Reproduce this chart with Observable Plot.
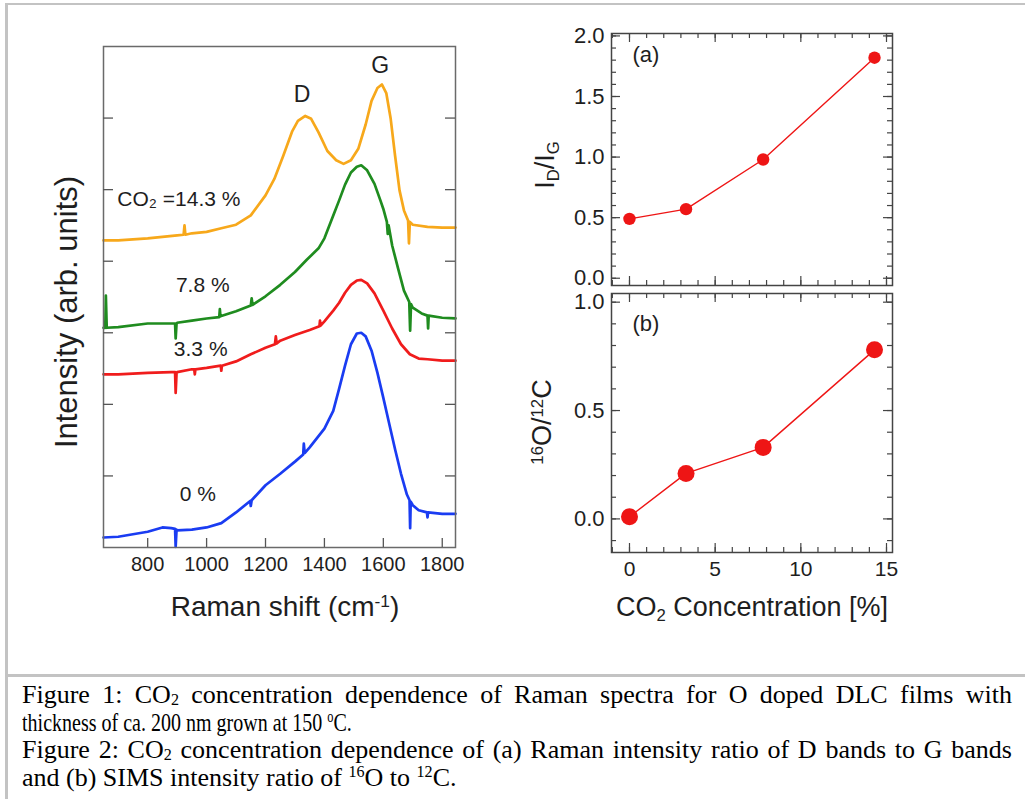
<!DOCTYPE html>
<html>
<head>
<meta charset="utf-8">
<script src="https://cdn.jsdelivr.net/npm/d3@7"></script>
<script src="https://cdn.jsdelivr.net/npm/@observablehq/plot@0.6"></script>
<style>
  html,body{margin:0;padding:0;background:#fff;}
  #page{position:relative;width:1025px;height:799px;overflow:hidden;background:#fff;font-family:"Liberation Sans",Arial,Helvetica,sans-serif;color:#1e1e1e;}
  .bline{position:absolute;background:#c3c3c3;}
  .lab{position:absolute;white-space:nowrap;transform:translate(-50%,-50%);line-height:1;}
  .rot{transform:translate(-50%,-50%) rotate(-90deg);}
  .lab sub{font-size:0.62em;vertical-align:baseline;position:relative;top:0.3em;line-height:0}
  .lab sup{font-size:0.62em;vertical-align:baseline;position:relative;top:-0.5em;line-height:0}
  #caption{position:absolute;left:22px;top:681px;width:990px;font-family:"Liberation Serif","Times New Roman",serif;font-size:26px;line-height:27.5px;color:#000;}
  #caption div{white-space:nowrap;height:27.5px;}
  #caption .j{text-align:justify;text-align-last:justify;white-space:normal;}
  #caption .c{display:inline-block;transform:scaleX(0.77);transform-origin:0 50%;}
  #caption sub{font-size:0.62em;vertical-align:baseline;position:relative;top:0.12em;line-height:0}
  #caption sup{font-size:0.62em;vertical-align:baseline;position:relative;top:-0.5em;line-height:0}
  svg{position:absolute;overflow:visible;}
</style>
</head>
<body>
<div id="page"></div>
<script>
// ---------------- DATA ----------------
// Figure 1: Raman spectra (offset, arb. units)
const seriesNames  = ["0 %", "3.3 %", "7.8 %", "14.3 %"];
const seriesColors = ["#1a3cf2", "#f01c1c", "#1f8c1f", "#f7a81b"];

const shift0 = [650,700,800,850,880,893,895,898,900,950,1000,1050,1100,1148,1150,1153,1200,1250,1300,1328,1330,1333,1350,1400,1430,1450,1470,1490,1510,1525,1540,1560,1580,1600,1620,1640,1660,1680,1689,1691,1693,1700,1720,1748,1750,1752,1800,1845];
const int0   = [0.14,0.15,0.22,0.28,0.27,0.26,0.01,0.25,0.24,0.25,0.28,0.34,0.49,0.65,0.58,0.66,0.87,1.03,1.20,1.30,1.45,1.32,1.40,1.66,1.91,2.22,2.54,2.84,2.99,3.00,2.95,2.75,2.44,2.09,1.73,1.37,1.03,0.74,0.66,0.27,0.64,0.59,0.52,0.49,0.42,0.49,0.47,0.47];

const shift1 = [650,700,800,880,893,895,898,900,950,958,960,962,1000,1048,1050,1052,1100,1150,1200,1232,1235,1238,1250,1300,1350,1383,1385,1387,1400,1430,1450,1470,1490,1510,1525,1545,1570,1600,1630,1660,1690,1720,1750,1800,1845];
const int1   = [2.42,2.42,2.44,2.45,2.45,2.16,2.44,2.45,2.49,2.49,2.42,2.49,2.51,2.54,2.47,2.54,2.60,2.70,2.79,2.84,2.95,2.85,2.89,2.97,3.04,3.09,3.17,3.10,3.16,3.31,3.42,3.56,3.67,3.73,3.74,3.69,3.55,3.31,3.06,2.84,2.70,2.64,2.63,2.61,2.61];

const shift2 = [650,656,658,661,700,800,880,893,895,898,900,950,1000,1043,1045,1047,1100,1150,1153,1156,1200,1250,1300,1340,1380,1400,1430,1450,1470,1490,1510,1525,1545,1570,1590,1600,1612,1615,1618,1630,1650,1670,1688,1691,1694,1700,1730,1750,1752,1754,1800,1845];
const int2   = [3.07,3.07,3.52,3.07,3.08,3.13,3.13,3.13,2.92,3.13,3.14,3.17,3.20,3.22,3.33,3.23,3.30,3.38,3.48,3.39,3.51,3.67,3.85,4.02,4.18,4.32,4.64,4.85,5.07,5.24,5.32,5.34,5.27,5.08,4.85,4.73,4.55,4.38,4.50,4.22,3.90,3.59,3.43,3.03,3.40,3.35,3.27,3.24,3.06,3.24,3.21,3.20];

const shift3 = [650,700,800,900,922,925,928,950,1000,1050,1100,1150,1200,1230,1260,1290,1310,1335,1355,1380,1410,1440,1465,1490,1515,1540,1560,1580,1595,1610,1625,1640,1655,1670,1684,1687,1690,1700,1750,1800,1845];
const int3   = [4.29,4.29,4.32,4.36,4.37,4.50,4.37,4.39,4.41,4.46,4.51,4.64,4.92,5.15,5.47,5.81,5.96,6.03,5.99,5.80,5.54,5.41,5.36,5.41,5.57,5.91,6.24,6.42,6.47,6.35,5.99,5.47,4.99,4.71,4.57,4.25,4.55,4.51,4.48,4.47,4.47];

const ramanTicks     = [800, 1000, 1200, 1400, 1600, 1800];
const intensityTicks = [1, 2, 3, 4, 5, 6];

const specLabels = ["7.8 %", "3.3 %", "0 %"];
const specLabelX = [987, 980, 970];
const specLabelY = [3.66, 2.77, 0.74];
const topLabel   = "CO₂ =14.3 %";
const topLabelX  = 697;
const topLabelY  = 4.87;
const bandLabels = ["D", "G"];
const bandLabelX = [1324, 1589];
const bandLabelY = [6.33, 6.73];

// Figure 2: ratios vs CO2 concentration
const co2Conc  = [0, 3.3, 7.8, 14.3];
const ratioDG  = [0.49, 0.57, 0.98, 1.82];
const ratioOC  = [0.01, 0.21, 0.33, 0.78];

const concMajor  = [0, 5, 10, 15];
const concMinor  = [-1,0,1,2,3,4,5,6,7,8,9,10,11,12,13,14,15];
const dgMajor    = [0, 0.5, 1.0, 1.5, 2.0];
const dgMinor    = [0,0.1,0.2,0.3,0.4,0.5,0.6,0.7,0.8,0.9,1.0,1.1,1.2,1.3,1.4,1.5,1.6,1.7,1.8,1.9,2.0];
const ocMajor    = [0, 0.5, 1.0];
const ocMinor    = [-0.1,0,0.1,0.2,0.3,0.4,0.5,0.6,0.7,0.8,0.9,1.0];

// ---------------- BUILD ----------------
const FONT = "Liberation Sans, Arial, Helvetica, sans-serif";
const page = document.getElementById("page");

const spectra = [];
[[shift0,int0],[shift1,int1],[shift2,int2],[shift3,int3]].forEach(([xs,ys],i) => {
  xs.forEach((x,j) => spectra.push({shift:x, intensity:ys[j], series:seriesNames[i]}));
});
const specLab = specLabels.map((t,i)=>({t, x:specLabelX[i], y:specLabelY[i]}));
const bandLab = bandLabels.map((t,i)=>({t, x:bandLabelX[i], y:bandLabelY[i]}));

// Left panel
const L = {w:480, h:640, ml:103, mr:25, mt:46, mb:93};
const Lfw = L.w - L.ml - L.mr, Lfh = L.h - L.mt - L.mb;
const tickCol = "#555";
const left = Plot.plot({
  width: L.w, height: L.h,
  marginLeft: L.ml, marginRight: L.mr, marginTop: L.mt, marginBottom: L.mb,
  style: {fontFamily: FONT, background: "transparent", color: "#1e1e1e"},
  x: {domain: [650, 1845], axis: null},
  y: {domain: [0, 7], axis: null},
  color: {domain: seriesNames, range: seriesColors},
  marks: [
    Plot.line(spectra, {x: "shift", y: "intensity", z: "series", stroke: "series", strokeWidth: 2.7, strokeLinejoin: "round"}),
    Plot.frame({stroke: "#6a6a6a", strokeWidth: 1.5}),
    Plot.tickX(ramanTicks, {x: d => d, insetTop: Lfh - 9, stroke: tickCol, strokeWidth: 1.3}),
    Plot.tickY(intensityTicks, {y: d => d, insetRight: Lfw - 10, stroke: tickCol, strokeWidth: 1.3}),
    Plot.tickY(intensityTicks, {y: d => d, insetLeft: Lfw - 10, stroke: tickCol, strokeWidth: 1.3}),
    Plot.axisX(ramanTicks, {anchor: "bottom", tickSize: 0, tickPadding: 9, fontSize: 20, label: null, fill: "#1e1e1e", tickFormat: d => String(d)}),
    Plot.text(specLab, {x: "x", y: "y", text: "t", textAnchor: "middle", fontSize: 21, fill: "#1e1e1e"}),
    Plot.text([topLabel], {x: () => topLabelX, y: () => topLabelY, text: d => d, textAnchor: "start", fontSize: 21, fill: "#1e1e1e"}),
    Plot.text(bandLab, {x: "x", y: "y", text: "t", fontSize: 23, fill: "#1e1e1e"})
  ]
});
left.style.left = "0px"; left.style.top = "0px";
page.appendChild(left);

// Right panels
function framedTicks(fw, fh, xMinor, xMajor, yMinor, yMajor) {
  const c = "#444", sw = 1.2, mn = 5, mj = 9;
  return [
    Plot.tickX(xMinor, {x: d => d, insetTop: fh - mn, stroke: c, strokeWidth: sw}),
    Plot.tickX(xMinor, {x: d => d, insetBottom: fh - mn, stroke: c, strokeWidth: sw}),
    Plot.tickX(xMajor, {x: d => d, insetTop: fh - mj, stroke: c, strokeWidth: sw}),
    Plot.tickX(xMajor, {x: d => d, insetBottom: fh - mj, stroke: c, strokeWidth: sw}),
    Plot.tickY(yMinor, {y: d => d, insetRight: fw - mn, stroke: c, strokeWidth: sw}),
    Plot.tickY(yMinor, {y: d => d, insetLeft: fw - mn, stroke: c, strokeWidth: sw}),
    Plot.tickY(yMajor, {y: d => d, insetRight: fw - mj, stroke: c, strokeWidth: sw}),
    Plot.tickY(yMajor, {y: d => d, insetLeft: fw - mj, stroke: c, strokeWidth: sw})
  ];
}
const ptsA = co2Conc.map((c,i)=>({c, v: ratioDG[i]}));
const ptsB = co2Conc.map((c,i)=>({c, v: ratioOC[i]}));
const red = "#ee1515";

const A = {w:400, h:300, ml:91, mr:28, mt:33, mb:15};
const Afw = A.w - A.ml - A.mr, Afh = A.h - A.mt - A.mb;
const plotA = Plot.plot({
  width: A.w, height: A.h,
  marginLeft: A.ml, marginRight: A.mr, marginTop: A.mt, marginBottom: A.mb,
  style: {fontFamily: FONT, background: "transparent", color: "#1e1e1e"},
  x: {domain: [-1.05, 15.35], axis: null},
  y: {domain: [-0.06, 2.02]},
  marks: [
    Plot.frame({stroke: "#444", strokeWidth: 1.5}),
    ...framedTicks(Afw, Afh, concMinor, concMajor, dgMinor, dgMajor),
    Plot.axisY(dgMajor, {anchor: "left", tickSize: 0, tickPadding: 7, fontSize: 22, label: null, tickFormat: d => d.toFixed(1), fill: "#1e1e1e"}),
    Plot.line(ptsA, {x: "c", y: "v", stroke: red, strokeWidth: 1.4}),
    Plot.dot(ptsA, {x: "c", y: "v", r: 6.2, fill: red, stroke: "none"}),
    Plot.text(["(a)"], {frameAnchor: "top-left", dx: 21, dy: 21, textAnchor: "start", lineAnchor: "middle", fontSize: 22, fill: "#1e1e1e"})
  ]
});
plotA.style.left = "520px"; plotA.style.top = "0px";
page.appendChild(plotA);

const B = {w:400, h:352, ml:91, mr:28, mt:5, mb:88};
const Bfw = B.w - B.ml - B.mr, Bfh = B.h - B.mt - B.mb;
const plotB = Plot.plot({
  width: B.w, height: B.h,
  marginLeft: B.ml, marginRight: B.mr, marginTop: B.mt, marginBottom: B.mb,
  style: {fontFamily: FONT, background: "transparent", color: "#1e1e1e"},
  x: {domain: [-1.05, 15.35]},
  y: {domain: [-0.155, 1.04]},
  marks: [
    Plot.frame({stroke: "#444", strokeWidth: 1.5}),
    ...framedTicks(Bfw, Bfh, concMinor, concMajor, ocMinor, ocMajor),
    Plot.axisY(ocMajor, {anchor: "left", tickSize: 0, tickPadding: 7, fontSize: 22, label: null, tickFormat: d => d.toFixed(1), fill: "#1e1e1e"}),
    Plot.axisX(concMajor, {anchor: "bottom", tickSize: 0, tickPadding: 9, fontSize: 21, label: null, fill: "#1e1e1e"}),
    Plot.line(ptsB, {x: "c", y: "v", stroke: red, strokeWidth: 1.4}),
    Plot.dot(ptsB, {x: "c", y: "v", r: 8.5, fill: red, stroke: "none"}),
    Plot.text(["(b)"], {frameAnchor: "top-left", dx: 21, dy: 30, textAnchor: "start", lineAnchor: "middle", fontSize: 22, fill: "#1e1e1e"})
  ]
});
plotB.style.left = "520px"; plotB.style.top = "288px";
page.appendChild(plotB);

// Axis titles (HTML text for sub/superscripts)
function label(html, x, y, size, rot) {
  const d = document.createElement("div");
  d.className = "lab" + (rot ? " rot" : "");
  d.style.left = x + "px"; d.style.top = y + "px"; d.style.fontSize = size + "px";
  d.innerHTML = html;
  page.appendChild(d);
}
label("Intensity (arb. units)", 66, 312, 31, true);
label("Raman shift (cm<sup>-1</sup>)", 285, 607, 28, false);
label("I<sub>D</sub>/I<sub>G</sub>", 545, 165, 27, true);
label("<sup>16</sup>O/<sup>12</sup>C", 542, 422, 27, true);
label("CO<sub>2</sub> Concentration [%]", 752, 607, 27, false);

// Page border lines
function bline(l,t,w,h){const d=document.createElement("div");d.className="bline";Object.assign(d.style,{left:l+"px",top:t+"px",width:w+"px",height:h+"px"});page.appendChild(d);}
bline(6,3,1019,2);
bline(5,3,2.5,796);
bline(6,674,1019,3);

// Caption
const cap = document.createElement("div");
cap.id = "caption";
cap.innerHTML =
  '<div class="j">Figure 1: CO<sub>2</sub> concentration dependence of Raman spectra for O doped DLC films with</div>' +
  '<div><span class="c">thickness of ca. 200 nm grown at 150 <sup>o</sup>C.</span></div>' +
  '<div class="j">Figure 2: CO<sub>2</sub> concentration dependence of (a) Raman intensity ratio of D bands to G bands</div>' +
  '<div>and (b) SIMS intensity ratio of <sup>16</sup>O to <sup>12</sup>C.</div>';
page.appendChild(cap);
</script>
</body>
</html>
